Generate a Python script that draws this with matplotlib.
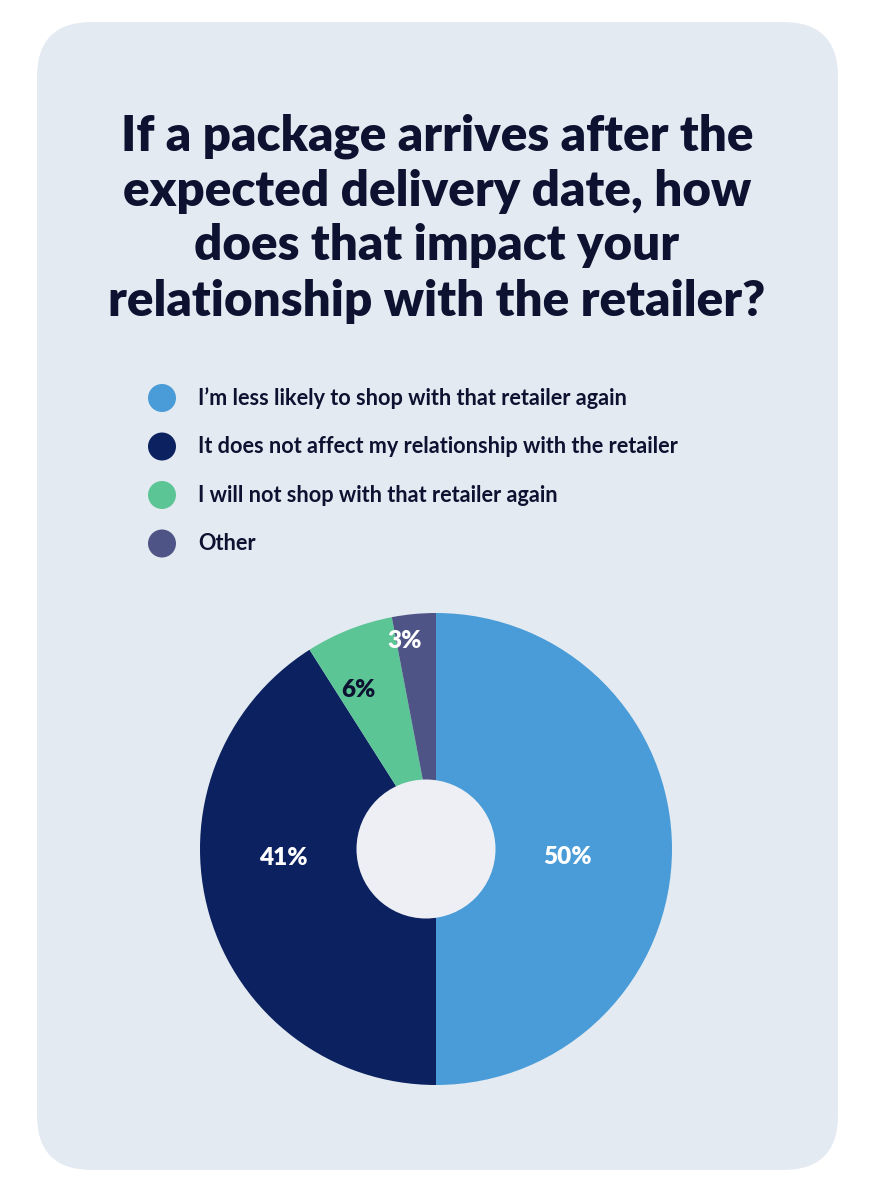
import matplotlib
matplotlib.use("Agg")
import matplotlib.pyplot as plt
from matplotlib.patches import FancyBboxPatch, Circle
import numpy as np

title_lines = ["If a package arrives after the",
               "expected delivery date, how",
               "does that impact your",
               "relationship with the retailer?"]
categories = ["I\u2019m less likely to shop with that retailer again",
              "It does not affect my relationship with the retailer",
              "I will not shop with that retailer again",
              "Other"]
values = [50, 41, 6, 3]
labels = ["50%", "41%", "6%", "3%"]

colors = ["#4a9cd8", "#0b2160", "#5cc595", "#4e5586"]
label_colors = ["white", "white", "#0c1230", "white"]
label_radius = [0.56, 0.65, 0.75, 0.89]
label_angle_shift = [-3.5, -13, 4.5, 3.3]

W, H = 876, 1200
fig = plt.figure(figsize=(W/100, H/100), dpi=100)
fig.patch.set_facecolor("white")
ax = fig.add_axes([0, 0, 1, 1])
ax.set_xlim(0, W); ax.set_ylim(0, H)
ax.axis("off")

def Y(y):
    return H - y

panel = FancyBboxPatch((37 + 55, Y(1170) + 55), 801 - 110, 1148 - 110,
                       boxstyle="round,pad=55", fc="#e3eaf1", ec="none", zorder=0)
ax.add_patch(panel)

dark = "#0c1230"
fam = ["Lato", "DejaVu Sans"]
for i, line in enumerate(title_lines):
    ax.text(437, Y(136 + 55 * i), line, ha="center", va="center", fontsize=35.5,
            fontweight="heavy", color=dark, family=fam)

for i, (c, lab) in enumerate(zip(colors, categories)):
    yy = Y(398 + 48.5 * i)
    ax.add_patch(Circle((162, yy), 14, fc=c, ec="none", zorder=2))
    ax.text(198, yy, lab, ha="left", va="center", fontsize=15.6,
            fontweight="bold", color=dark, family=fam)

cx, cy, R = 436, Y(849), 236
wedges, _ = ax.pie(values, colors=colors, startangle=90, counterclock=False,
                   center=(cx, cy), radius=R, wedgeprops=dict(linewidth=0))
ax.add_patch(Circle((cx - 10, cy), 69.5, fc="#eeeff5", ec="none", zorder=5))
for w, lab, lc, lr, sh in zip(wedges, labels, label_colors, label_radius, label_angle_shift):
    ang = np.deg2rad((w.theta1 + w.theta2) / 2 + sh)
    ax.text(cx + R * lr * np.cos(ang), cy + R * lr * np.sin(ang), lab,
            ha="center", va="center", fontsize=17.5, fontweight="heavy",
            color=lc, family=fam, zorder=6)

ax.set_xlim(0, W); ax.set_ylim(0, H)
ax.set_aspect("auto")
fig.savefig("out.png", dpi=100, facecolor="white")
